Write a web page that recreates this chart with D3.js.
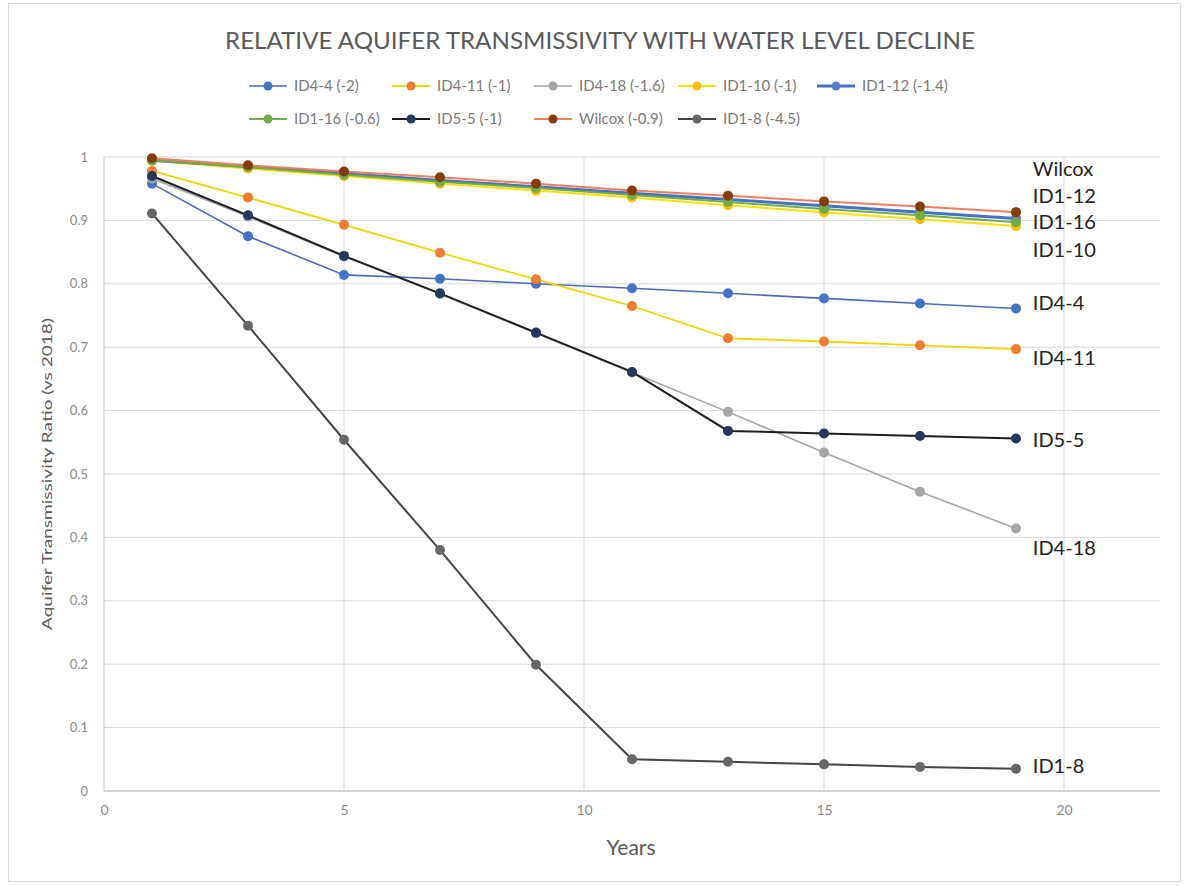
<!DOCTYPE html>
<html>
<head>
<meta charset="utf-8">
<script src="https://cdn.jsdelivr.net/npm/d3@7"></script>
<style>
  body { margin: 0; background: #fff; }
  text { font-family: Lato, "Open Sans", sans-serif; }
</style>
</head>
<body>
<div id="chart"></div>
<script>
// values
const years = [1, 3, 5, 7, 9, 11, 13, 15, 17, 19];

const seriesNames = ["ID4-4 (-2)", "ID4-11 (-1)", "ID4-18 (-1.6)", "ID1-10 (-1)", "ID1-12 (-1.4)",
                     "ID1-16 (-0.6)", "ID5-5 (-1)", "Wilcox (-0.9)", "ID1-8 (-4.5)"];

const id4_4  = [0.958, 0.875, 0.814, 0.808, 0.800, 0.793, 0.785, 0.777, 0.769, 0.761];
const id4_11 = [0.978, 0.936, 0.893, 0.849, 0.807, 0.765, 0.714, 0.709, 0.703, 0.697];
const id4_18 = [0.966, 0.906, 0.843, 0.784, 0.722, 0.660, 0.598, 0.534, 0.472, 0.414];
const id1_10 = [0.994, 0.982, 0.970, 0.958, 0.947, 0.936, 0.924, 0.913, 0.902, 0.891];
const id1_12 = [0.995, 0.985, 0.974, 0.963, 0.953, 0.943, 0.933, 0.923, 0.913, 0.903];
const id1_16 = [0.995, 0.984, 0.972, 0.961, 0.951, 0.940, 0.929, 0.918, 0.908, 0.897];
const id5_5  = [0.970, 0.908, 0.844, 0.785, 0.723, 0.661, 0.568, 0.564, 0.560, 0.556];
const wilcox = [0.998, 0.987, 0.977, 0.968, 0.958, 0.947, 0.939, 0.930, 0.922, 0.913];
const id1_8  = [0.911, 0.734, 0.554, 0.380, 0.199, 0.050, 0.046, 0.042, 0.038, 0.035];

const seriesValues = [id4_4, id4_11, id4_18, id1_10, id1_12, id1_16, id5_5, wilcox, id1_8];

const lineColors   = ["#4A68C4", "#F2D600", "#A5A5A5", "#FFE000", "#4472C4", "#70AD47", "#1E1E1E", "#F27E5E", "#454545"];
const markerColors = ["#4472C4", "#ED7D31", "#A5A5A5", "#FFC000", "#5A7BC8", "#70AD47", "#22385F", "#843C0C", "#666666"];
const lineWidths   = [1.6, 1.8, 1.6, 2, 3, 2, 2, 2, 2];

const xTicks = [0, 5, 10, 15, 20];
const yTicks = [0, 0.1, 0.2, 0.3, 0.4, 0.5, 0.6, 0.7, 0.8, 0.9, 1];

// labels written at the right end of the lines (y in ratio units)
const endLabels = ["Wilcox", "ID1-12", "ID1-16", "ID1-10", "ID4-4", "ID4-11", "ID5-5", "ID4-18", "ID1-8"];
const endLabelY = [0.981, 0.939, 0.897, 0.853, 0.770, 0.683, 0.554, 0.383, 0.039];

const width = 1187, height = 886;
const margin = {top: 157, right: 27, bottom: 95, left: 104};

const svg = d3.select("#chart").append("svg")
    .attr("width", width)
    .attr("height", height);

svg.append("rect")
    .attr("x", 8.5).attr("y", 3.5)
    .attr("width", 1172).attr("height", 878)
    .attr("fill", "#fff")
    .attr("stroke", "#d9d9d9");

const x = d3.scaleLinear().domain([0, 22]).range([margin.left, width - margin.right]);
const y = d3.scaleLinear().domain([0, 1]).range([height - margin.bottom, margin.top]);

// grid
svg.append("g")
    .selectAll("line")
    .data(yTicks)
    .join("line")
    .attr("x1", x(0)).attr("x2", x(22))
    .attr("y1", d => y(d)).attr("y2", d => y(d))
    .attr("stroke", d => d === 0 ? "#c8c8c8" : "#d9d9d9")
    .attr("stroke-width", d => d === 0 ? 1.5 : 1);

svg.append("g")
    .selectAll("line")
    .data(xTicks)
    .join("line")
    .attr("x1", d => x(d)).attr("x2", d => x(d))
    .attr("y1", y(0)).attr("y2", y(1))
    .attr("stroke", d => d === 0 ? "#c8c8c8" : "#d9d9d9");

// axes (labels only, lines drawn by the grid)
const yAxis = svg.append("g")
    .attr("transform", `translate(${x(0) - 13},0)`)
    .call(d3.axisLeft(y).tickValues(yTicks).tickSize(0).tickFormat(d => d === 0 || d === 1 ? d3.format("d")(d) : d3.format(".1f")(d)));
yAxis.select(".domain").remove();
yAxis.selectAll("text").attr("fill", "#8a8a8a").attr("font-size", 13);

const xAxis = svg.append("g")
    .attr("transform", `translate(0,${y(0) + 11})`)
    .call(d3.axisBottom(x).tickValues(xTicks).tickSize(0));
xAxis.select(".domain").remove();
xAxis.selectAll("text").attr("fill", "#8a8a8a").attr("font-size", 14);

svg.selectAll(".tick text").style("font-family", "Lato, sans-serif");

// axis titles
svg.append("text")
    .attr("x", 631).attr("y", 855)
    .attr("text-anchor", "middle")
    .attr("font-size", 21)
    .attr("fill", "#595959")
    .text("Years");

svg.append("text")
    .attr("transform", `translate(52,${(y(0) + y(1)) / 2}) rotate(-90)`)
    .attr("text-anchor", "middle")
    .attr("font-size", 14)
    .attr("textLength", 312)
    .attr("lengthAdjust", "spacingAndGlyphs")
    .attr("fill", "#595959")
    .text("Aquifer Transmissivity Ratio (vs 2018)");

// title
svg.append("text")
    .attr("x", 600).attr("y", 49)
    .attr("text-anchor", "middle")
    .attr("font-size", 24)
    .attr("textLength", 750)
    .attr("lengthAdjust", "spacingAndGlyphs")
    .attr("fill", "#595959")
    .text("RELATIVE AQUIFER TRANSMISSIVITY WITH WATER LEVEL DECLINE");

// series
const line = d3.line()
    .x((d, i) => x(years[i]))
    .y(d => y(d));

const series = svg.append("g")
    .selectAll("g")
    .data(seriesValues)
    .join("g");

series.append("path")
    .attr("d", d => line(d))
    .attr("fill", "none")
    .attr("stroke", (d, i) => lineColors[i])
    .attr("stroke-width", (d, i) => lineWidths[i]);

series.selectAll("circle")
    .data(d => d)
    .join("circle")
    .attr("cx", (d, i) => x(years[i]))
    .attr("cy", d => y(d))
    .attr("r", 5)
    .attr("fill", function() { return markerColors[seriesValues.indexOf(d3.select(this.parentNode).datum())]; });

// end labels
svg.append("g")
    .selectAll("text")
    .data(endLabels)
    .join("text")
    .attr("x", x(19.35))
    .attr("y", (d, i) => y(endLabelY[i]))
    .attr("dy", "0.35em")
    .attr("font-size", 20)
    .attr("fill", "#222")
    .text(d => d);

// legend
const legendCols = [249, 392, 534, 678, 817];
const legend = svg.append("g")
    .selectAll("g")
    .data(seriesNames)
    .join("g")
    .attr("transform", (d, i) => `translate(${legendCols[i % 5]},${i < 5 ? 86 : 119})`);

legend.append("line")
    .attr("x1", 0).attr("x2", 38)
    .attr("stroke", (d, i) => lineColors[i])
    .attr("stroke-width", (d, i) => lineWidths[i]);

legend.append("circle")
    .attr("cx", 19).attr("r", 4.5)
    .attr("fill", (d, i) => markerColors[i]);

legend.append("text")
    .attr("x", 45)
    .attr("dy", "0.35em")
    .attr("font-size", 15)
    .attr("fill", "#7a7a7a")
    .text(d => d);
</script>
</body>
</html>
